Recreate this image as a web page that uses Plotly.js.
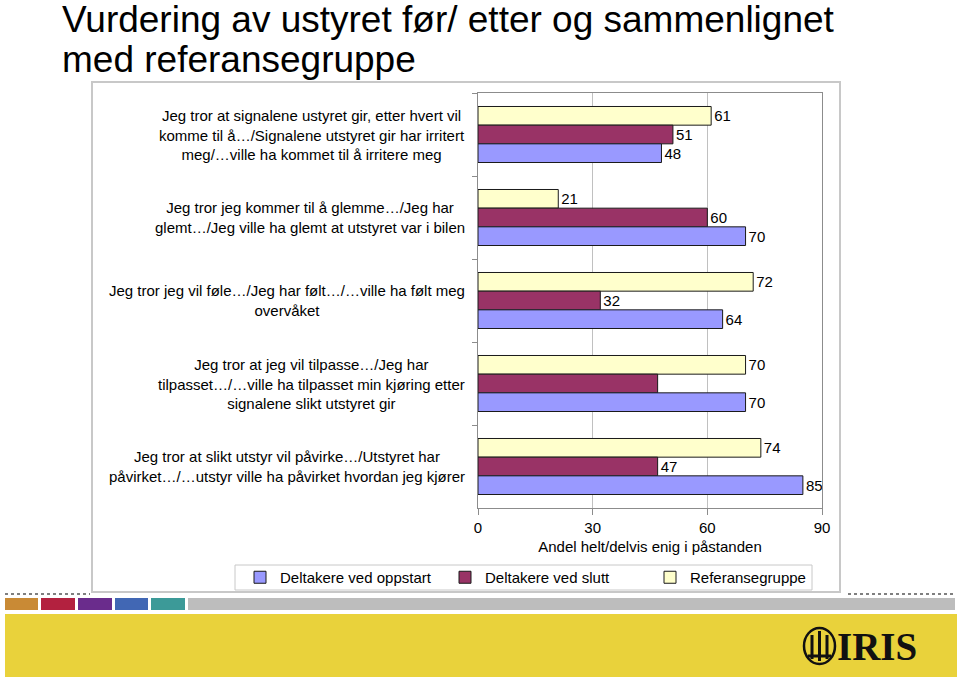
<!DOCTYPE html>
<html>
<head>
<meta charset="utf-8">
<script src="https://cdn.plot.ly/plotly-3.0.1.min.js"></script>
<style>
  html, body { margin: 0; padding: 0; background: #fff; }
  #chart { width: 960px; height: 678px; }
</style>
</head>
<body>
<div id="chart"></div>
<script>
// ---- data ----
const categories = [
  'Jeg tror at signalene ustyret gir, etter hvert vil<br>komme til å…/Signalene utstyret gir har irritert<br>meg/…ville ha kommet til å irritere meg',
  'Jeg tror jeg kommer til å glemme…/Jeg har<br>glemt…/Jeg ville ha glemt at utstyret var i bilen',
  'Jeg tror jeg vil føle…/Jeg har følt…/…ville ha følt meg<br>overvåket',
  'Jeg tror at jeg vil tilpasse…/Jeg har<br>tilpasset…/…ville ha tilpasset min kjøring etter<br>signalene slikt utstyret gir',
  'Jeg tror at slikt utstyr vil påvirke…/Utstyret har<br>påvirket…/…utstyr ville ha påvirket hvordan jeg kjører'
];
const seriesNames = ['Deltakere ved oppstart', 'Deltakere ved slutt', 'Referansegruppe'];
const oppstart = [48, 70, 64, 70, 85];
const slutt = [51, 60, 32, 47, 47];
const referanse = [61, 21, 72, 70, 74];
const sluttLabelShown = [true, true, true, false, true];
const xTicks = [0, 30, 60, 90];
const titleLines = ['Vurdering av ustyret før/ etter og sammenlignet', 'med referansegruppe'];
const xTitle = 'Andel helt/delvis enig i påstanden';

// ---- layout helpers (pixel -> paper) ----
const L = 478, R = 822, T = 93, B = 508;
const W = 960, H = 678;
const px = x => (x - L) / (R - L);
const py = y => (B - y) / (B - T);

const font = 'Liberation Sans, Arial, sans-serif';
const barLine = { color: '#1a1a1a', width: 1 };

function barTrace(name, values, color, labels) {
  return {
    type: 'bar', orientation: 'h', name: name,
    x: values, y: categories,
    text: labels, textposition: 'outside', cliponaxis: false,
    constraintext: 'none',
    textfont: { family: font, size: 15, color: '#000' },
    marker: { color: color, line: barLine },
    hoverinfo: 'x+name'
  };
}

const traces = [
  barTrace(seriesNames[2], referanse, '#FFFFCC', referanse.map(String)),
  barTrace(seriesNames[1], slutt, '#993366', slutt.map((v, i) => sluttLabelShown[i] ? String(v) : '')),
  barTrace(seriesNames[0], oppstart, '#9999FF', oppstart.map(String))
];

const annotations = categories.map(c => ({
  xref: 'paper', yref: 'y', x: px(467), y: c, xanchor: 'right', yanchor: 'middle',
  text: c, align: 'center', showarrow: false,
  font: { family: font, size: 15, color: '#000' }
}));
// title lines
[[titleLines[0], 20], [titleLines[1], 60]].forEach(([t, yc]) => annotations.push({
  xref: 'paper', yref: 'paper', x: px(60), y: py(yc), xanchor: 'left', yanchor: 'middle',
  text: t, showarrow: false,
  font: { family: font, size: 37, color: '#000' }
}));
// logo text
annotations.push({
  xref: 'paper', yref: 'paper', x: px(835), y: py(646), xanchor: 'left', yanchor: 'middle',
  text: '<b>IRIS</b>', showarrow: false,
  font: { family: 'Liberation Serif, serif', size: 39, color: '#111' }
});

const shapes = [];
function rect(x0, y0, x1, y1, fill, line) {
  shapes.push({ type: 'rect', xref: 'paper', yref: 'paper', layer: 'below',
    x0: px(x0), x1: px(x1), y0: py(y0), y1: py(y1),
    fillcolor: fill, line: line || { width: 0 } });
}
// chart frame
shapes.push({ type: 'rect', xref: 'paper', yref: 'paper', layer: 'below',
  x0: px(92), x1: px(840), y0: py(82), y1: py(592),
  fillcolor: 'rgba(0,0,0,0)', line: { color: '#C8C8C8', width: 2 } });
// legend frame
rect(235, 565, 812, 590, '#fff', { color: '#C8C8C8', width: 1 });
// dotted lines
[[5, 90], [848, 955]].forEach(([a, b]) => shapes.push({
  type: 'line', xref: 'paper', yref: 'paper', x0: px(a), x1: px(b), y0: py(594), y1: py(594),
  line: { color: '#555', width: 1.5, dash: 'dot' } }));
// colored stripe
[[5, 38, '#C98A35'], [41, 75, '#B3213F'], [78, 112, '#6A2C8C'], [115, 148, '#4167B4'],
 [151, 185, '#3C9A98'], [188, 955, '#BDBDBD']].forEach(([a, b, c]) => rect(a, 598, b, 610, c));
// yellow band
rect(5, 614, 957, 677, '#E9D23B');
// logo emblem
shapes.push({ type: 'circle', xref: 'paper', yref: 'paper', x0: px(804), x1: px(835), y0: py(628), y1: py(664),
  line: { color: '#111', width: 2.5 }, fillcolor: 'rgba(0,0,0,0)' });
[[812, 635, 659], [819.5, 631, 661], [827, 635, 659]].forEach(([x, a, b]) => shapes.push({
  type: 'line', xref: 'paper', yref: 'paper', x0: px(x), x1: px(x), y0: py(a), y1: py(b),
  line: { color: '#111', width: 3 } }));
shapes.push({ type: 'line', xref: 'paper', yref: 'paper', x0: px(808), x1: px(831), y0: py(656), y1: py(656),
  line: { color: '#111', width: 3 } });

const layout = {
  width: W, height: H,
  margin: { l: L, r: W - R, t: T, b: H - B, pad: 0 },
  paper_bgcolor: '#fff', plot_bgcolor: '#fff',
  font: { family: font, size: 15, color: '#000' },
  barmode: 'group', bargap: 0.325, bargroupgap: 0,
  xaxis: {
    range: [0, 90], tickvals: xTicks, ticktext: xTicks.map(String),
    showgrid: true, gridcolor: '#C0C0C0', gridwidth: 1,
    showline: true, linecolor: '#8C8C8C', linewidth: 1, mirror: true,
    ticks: 'outside', ticklen: 6, tickcolor: '#8C8C8C',
    zeroline: false, fixedrange: true,
    tickfont: { family: font, size: 15, color: '#000' },
    title: { text: xTitle, font: { family: font, size: 15, color: '#000' }, standoff: 6 }
  },
  yaxis: {
    type: 'category', categoryorder: 'array', categoryarray: categories,
    autorange: 'reversed', showticklabels: false,
    showline: true, linecolor: '#8C8C8C', linewidth: 1, mirror: true,
    ticks: 'outside', ticklen: 5, tickcolor: '#8C8C8C', tickson: 'boundaries',
    showgrid: false, zeroline: false, fixedrange: true
  },
  showlegend: true,
  legend: {
    orientation: 'h', traceorder: 'reversed',
    x: px(240), xanchor: 'left', y: py(561), yanchor: 'top',
    borderwidth: 0, bgcolor: 'rgba(0,0,0,0)',
    font: { family: font, size: 15, color: '#000' },
    entrywidth: 160, entrywidthmode: 'pixels',
    itemclick: false, itemdoubleclick: false
  },
  annotations: annotations,
  shapes: shapes
};

Plotly.newPlot('chart', traces, layout, { displayModeBar: false, staticPlot: true });
</script>
</body>
</html>
